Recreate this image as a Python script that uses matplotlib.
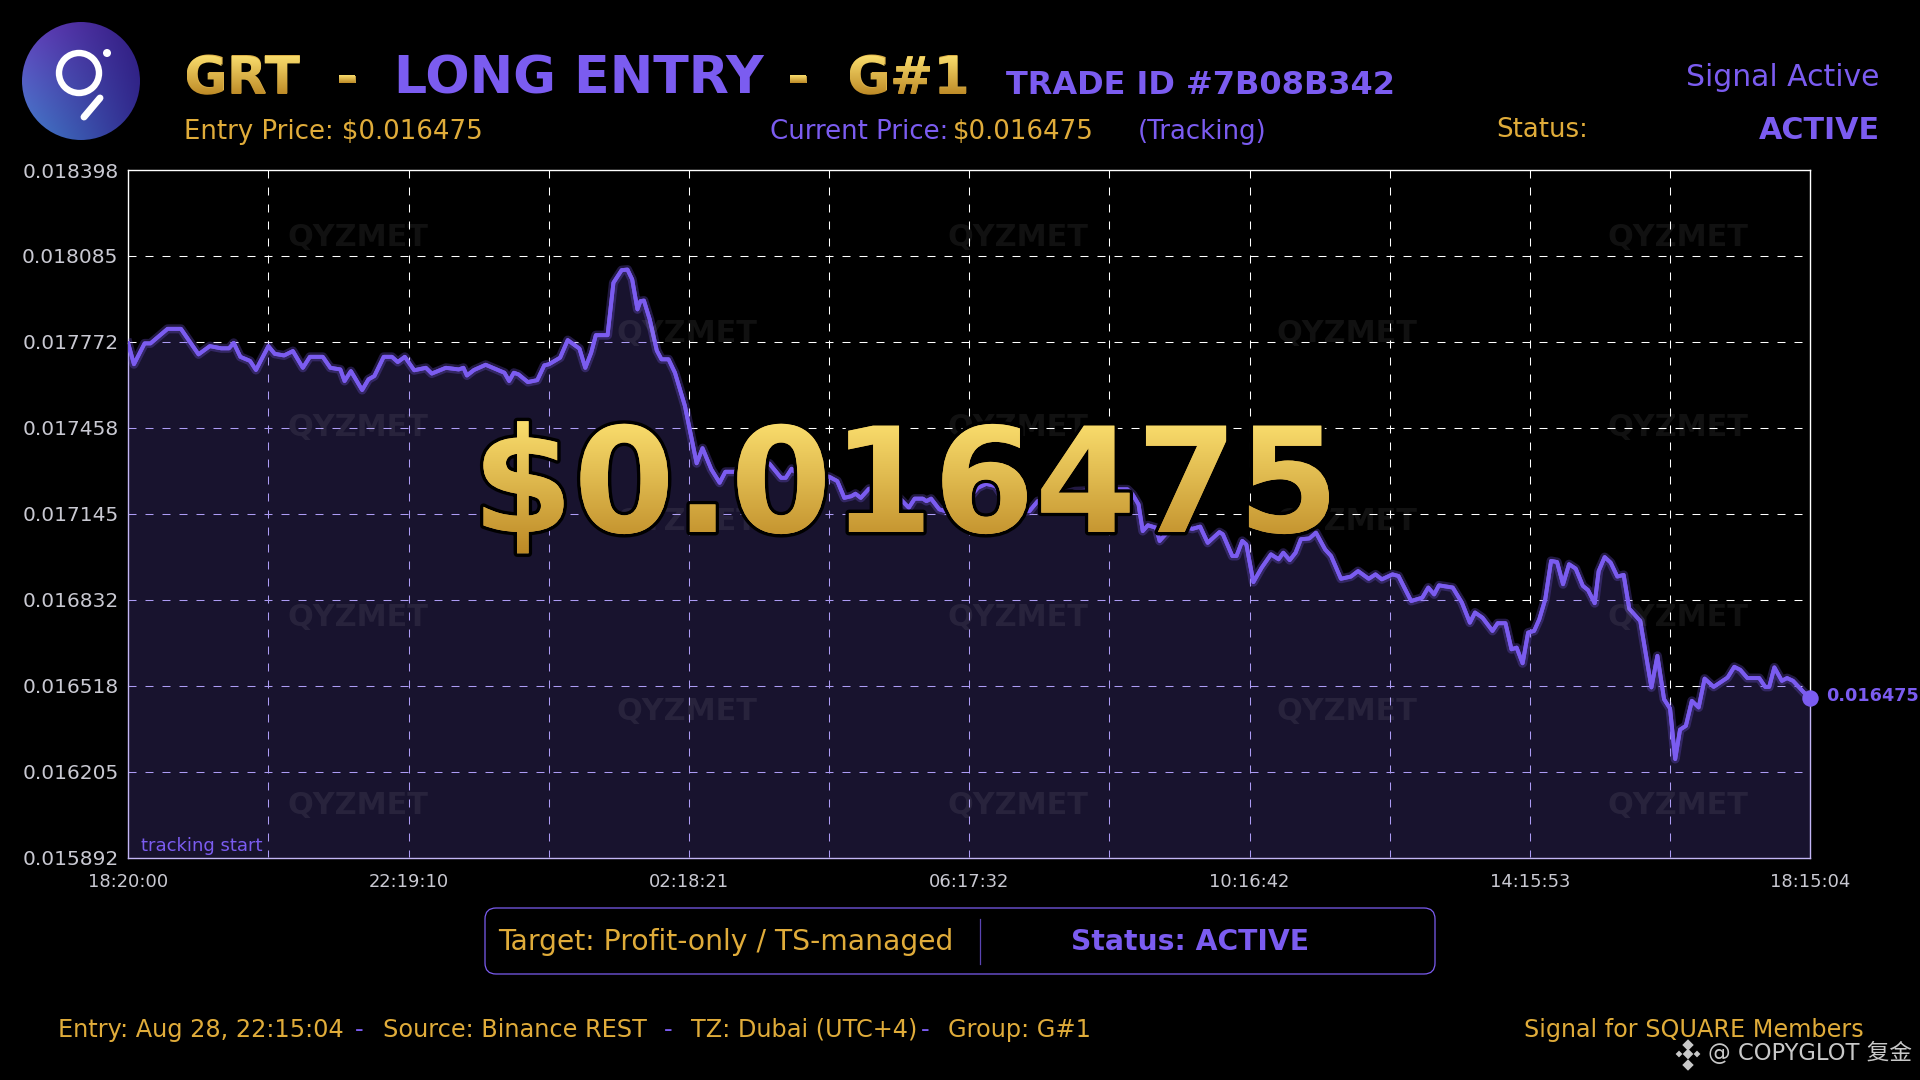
import numpy as np
import matplotlib
matplotlib.use("Agg")
import matplotlib.pyplot as plt
import matplotlib.patheffects as pe
from matplotlib.font_manager import FontProperties
from matplotlib.patches import Circle, FancyBboxPatch
from matplotlib.textpath import TextPath
from matplotlib.transforms import Affine2D

# minutes since tracking start
time_min = [
    0, 4.9, 14, 19, 33.6, 45, 60, 69.6, 79.4, 86, 90, 95.7, 104, 109, 119.6, 125, 133, 140.5, 149, 155,
    166, 172.5, 181, 184.6, 190, 199.6, 205, 210, 218, 225, 230, 236, 244, 254, 259, 271, 282, 286, 289, 295,
    305, 321, 325, 329, 333, 341, 349, 355, 359, 368.5, 375, 385, 390, 395, 399, 409, 414, 421, 426, 430,
    434.5, 437, 440, 445, 451, 455, 461, 466.5, 475, 485, 490, 497.5, 504.6, 509.5, 517, 527, 542, 547, 557, 561,
    566, 568, 581, 598, 605, 611, 617, 620.5, 625, 632, 648, 666, 671, 678, 681, 685, 692, 697, 714, 725,
    732, 740, 754.5, 769, 776, 808, 844, 852.5, 857, 862, 865.6, 870, 877, 880, 890, 898, 908, 914.6, 921, 931,
    934, 942, 945.6, 950.5, 954, 960, 967, 975, 981.5, 985.5, 991, 996, 1000.5, 1007.7, 1013.4, 1021.2, 1026.3,
    1034.7, 1043.2, 1049.3, 1058.4, 1064.2, 1069.6, 1078.7, 1083.8, 1094.6, 1104.1, 1109.2, 1114.2, 1118.3, 1130.1,
    1137.9, 1144.7, 1149.1, 1155.5, 1164, 1168.4, 1175.1, 1180.2, 1184.6, 1189.7, 1194.4, 1199.5, 1203.9, 1209, 1214,
    1219.1, 1224.2, 1229.3, 1235, 1241.1, 1245.5, 1251.2, 1254.6, 1259.7, 1264.8, 1270.5, 1275.9, 1280.7, 1290.1,
    1299.6, 1304.7, 1310.4, 1315.5, 1319.9, 1324, 1329, 1334.1, 1339.9, 1345, 1352.7, 1364.6, 1370.3, 1375.4, 1381.5,
    1391.6, 1396.7, 1400.1, 1404.5, 1410.9, 1415.3, 1420.4, 1429.6, 1435,
]
price = [
    0.017766, 0.017690, 0.017766, 0.017766, 0.017819, 0.017819, 0.017726, 0.017756, 0.017748, 0.017748,
    0.017768, 0.017717, 0.017702, 0.017669, 0.017756, 0.017728, 0.017722, 0.017738, 0.017677, 0.017717,
    0.017717, 0.017677, 0.017671, 0.017629, 0.017665, 0.017596, 0.017635, 0.017647, 0.017717, 0.017717,
    0.017698, 0.017717, 0.017668, 0.017677, 0.017656, 0.017677, 0.017671, 0.017677, 0.017649, 0.017669,
    0.017688, 0.017659, 0.017629, 0.017659, 0.017653, 0.017625, 0.017632, 0.017686, 0.017690, 0.017714,
    0.017778, 0.017747, 0.017677, 0.017732, 0.017796, 0.017796, 0.017987, 0.018033, 0.018035, 0.017999,
    0.017890, 0.017920, 0.017922, 0.017853, 0.017740, 0.017708, 0.017708, 0.017659, 0.017538, 0.017329,
    0.017384, 0.017307, 0.017258, 0.017298, 0.017298, 0.017312, 0.017331, 0.017328, 0.017276, 0.017276,
    0.017309, 0.017300, 0.017288, 0.017280, 0.017264, 0.017203, 0.017209, 0.017218, 0.017203, 0.017236,
    0.017246, 0.017167, 0.017200, 0.017200, 0.017191, 0.017200, 0.017161, 0.017155, 0.017185, 0.017240,
    0.017254, 0.017246, 0.017155, 0.017155, 0.017191, 0.017227, 0.017234, 0.017234, 0.017215, 0.017179,
    0.017082, 0.017103, 0.017094, 0.017046, 0.017094, 0.017100, 0.017090, 0.017098, 0.017039, 0.017078,
    0.017070, 0.016991, 0.016991, 0.017046, 0.017033, 0.016896, 0.016948, 0.016997, 0.016979, 0.017003,
    0.016976, 0.017003, 0.017052, 0.017055, 0.017076, 0.017015, 0.016991,
    0.016908, 0.016916, 0.016936, 0.016908, 0.016924, 0.016906, 0.016924, 0.016918, 0.016827, 0.016839,
    0.016876, 0.016851, 0.016884, 0.016876, 0.016821, 0.016748, 0.016785, 0.016766, 0.016718, 0.016746,
    0.016746, 0.016651, 0.016657, 0.016600, 0.016712, 0.016718, 0.016760, 0.016833, 0.016973, 0.016969,
    0.016888, 0.016961, 0.016945, 0.016882, 0.016867, 0.016819, 0.016936, 0.016987, 0.016967, 0.016916,
    0.016922, 0.016799, 0.016754, 0.016512, 0.016627, 0.016469, 0.016435, 0.016251, 0.016358, 0.016372,
    0.016463, 0.016439, 0.016544, 0.016514, 0.016548, 0.016587, 0.016576, 0.016546, 0.016546, 0.016514,
    0.016514, 0.016585, 0.016536, 0.016546, 0.016536, 0.016494, 0.016475,
]
y_ticks = [0.015892, 0.016205, 0.016518, 0.016832, 0.017145, 0.017458, 0.017772, 0.018085, 0.018398]
x_labels = ["18:20:00", "22:19:10", "02:18:21", "06:17:32", "10:16:42", "14:15:53", "18:15:04"]
total_min = 1435.07
entry_price = "$0.016475"

W, H, DPI = 1920, 1080, 100
BG = "#000000"
PURPLE = "#7b5cf0"
GOLD = "#e0ac3a"
FILL = "#18132e"
LAV = "#ad9cf5"
TICK = "#c9c9d2"

plt.rcParams["font.family"] = ["DejaVu Sans", "Noto Sans CJK SC"]
plt.rcParams["lines.scale_dashes"] = False
DASH = (0, (5.76, 6.48))


def gold_text(ov, x, y, s, size, outline=0):
    # real text plus a gradient image clipped to its outline
    effects = [pe.withStroke(linewidth=outline, foreground="black")] if outline else None
    ov.text(x, y, s, fontsize=size, fontweight="bold", color="#dcb048", va="baseline", ha="left",
            path_effects=effects, zorder=8)
    prop = FontProperties(family="DejaVu Sans", weight="bold")
    tp = TextPath((0, 0), s, size=size * DPI / 72, prop=prop)
    box = tp.get_extents()
    grad = np.zeros((64, 2, 3))
    top, bot = np.array([0.98, 0.87, 0.43]), np.array([0.74, 0.54, 0.15])
    for i in range(64):
        grad[i, :] = top + (bot - top) * i / 63
    im = ov.imshow(grad, extent=(x + box.x0, x + box.x1, y - box.y0, y - box.y1), aspect="auto", zorder=9)
    im.set_clip_path(tp, transform=Affine2D().translate(x, H - y))


fig = plt.figure(figsize=(W / DPI, H / DPI), dpi=DPI, facecolor=BG)

# main chart
left, right, top, bottom = 128.2, 1810.2, 170.0, 857.5
ax = fig.add_axes([left / W, 1 - bottom / H, (right - left) / W, (bottom - top) / H], facecolor=BG, zorder=1)
ax.set_xlim(0, total_min)
ax.set_ylim(y_ticks[0], y_ticks[-1])

x_grid = [total_min / 12 * i for i in range(13)]
for xg in x_grid[1:-1]:
    ax.axvline(xg, color="white", lw=0.75, ls=DASH, zorder=1)
for yg in y_ticks[1:-1]:
    ax.axhline(yg, color="white", lw=0.75, ls=DASH, zorder=1)

fill = ax.fill_between(time_min, price, y_ticks[0], color=FILL, lw=0, zorder=2)
area = fill.get_paths()[0]
for xg in x_grid[1:-1]:
    ax.axvline(xg, color=LAV, lw=0.75, ls=DASH, zorder=2.2).set_clip_path(area, transform=ax.transData)
for yg in y_ticks[1:-1]:
    ax.axhline(yg, color=LAV, lw=0.75, ls=DASH, zorder=2.2).set_clip_path(area, transform=ax.transData)

ax.plot(time_min, price, color=PURPLE, lw=2.8, zorder=4, solid_joinstyle="round",
        path_effects=[pe.withStroke(linewidth=6.5, foreground=PURPLE, alpha=0.28), pe.Normal()])
ax.scatter([time_min[-1]], [price[-1]], s=140, color=PURPLE, lw=0, zorder=5, clip_on=False)

for side in ax.spines.values():
    side.set_color("white")
    side.set_linewidth(1.0)
ax.spines["bottom"].set_color("#c3b6f5")
ax.spines["left"].set_bounds(price[0], y_ticks[-1])
ax.spines["right"].set_bounds(price[-1], y_ticks[-1])
ax.plot([0, 0], [y_ticks[0], price[0]], color="#c3b6f5", lw=1.0, clip_on=False, zorder=3)
ax.plot([total_min, total_min], [y_ticks[0], price[-1]], color="#c3b6f5", lw=1.0, clip_on=False, zorder=3)

ax.set_yticks(y_ticks)
ax.set_yticklabels([f"{v:.6f}" for v in y_ticks], color=TICK, fontsize=14.5)
ax.set_xticks(x_grid[::2])
ax.set_xticklabels(x_labels, color=TICK, fontsize=12.9)
ax.tick_params(axis="both", length=0)
ax.tick_params(axis="y", pad=7)
ax.tick_params(axis="x", pad=11)

# everything else sits on a pixel-coordinate overlay
ov = fig.add_axes([0, 0, 1, 1], facecolor="none", zorder=2)
ov.set_xlim(0, W)
ov.set_ylim(H, 0)
ov.set_autoscale_on(False)
ov.axis("off")

# watermarks
for wy, wxs in zip([237, 333, 427, 522, 617, 712, 806],
                   [(357.5, 1017.5, 1677.5), (687, 1347)] * 3 + [(357.5, 1017.5, 1677.5)]):
    for wx in wxs:
        ov.text(wx, wy, "QYZMET", fontsize=21.8, fontweight="bold", color="white", alpha=0.07,
                ha="center", va="center", zorder=1)

# logo
gx, gy = np.meshgrid(np.linspace(0, 1, 120), np.linspace(0, 1, 120))
tl, tr = np.array([0.40, 0.25, 0.74]), np.array([0.19, 0.11, 0.50])
bl, br = np.array([0.26, 0.50, 0.80]), np.array([0.19, 0.17, 0.56])
logo = ((1 - gx) * (1 - gy))[..., None] * tl + (gx * (1 - gy))[..., None] * tr \
    + ((1 - gx) * gy)[..., None] * bl + (gx * gy)[..., None] * br
im = ov.imshow(logo, extent=(22, 140, 140, 22), aspect="auto", zorder=2)
im.set_clip_path(Circle((81, 81), 59, transform=ov.transData))
ov.add_patch(Circle((79, 73), 20, fc="none", ec="white", lw=4.6, zorder=3))
ov.add_patch(Circle((107, 53), 4, fc="white", ec="none", zorder=3))
ov.plot([100, 84], [98, 117], color="white", lw=5, solid_capstyle="round", zorder=3)

# header
gold_text(ov, 184, 94, "GRT", 37.5)
gold_text(ov, 336, 94, "-", 37.5)
ov.text(394, 94, "LONG ENTRY", fontsize=37.5, fontweight="bold", color=PURPLE, va="baseline")
gold_text(ov, 787, 94, "-", 37.5)
gold_text(ov, 847, 94, "G#1", 37.5)
ov.text(1006, 94, "TRADE ID #7B08B342", fontsize=23.05, fontweight="bold", color=PURPLE, va="baseline")
ov.text(1880, 86, "Signal Active", fontsize=21.5, color=PURPLE, ha="right", va="baseline")
ov.text(184, 139, "Entry Price: $0.016475", fontsize=18.7, color=GOLD, va="baseline")
ov.text(770, 139, "Current Price:", fontsize=18.7, color=PURPLE, va="baseline")
ov.text(953, 139, "$0.016475", fontsize=18.7, color=GOLD, va="baseline")
ov.text(1138, 139, "(Tracking)", fontsize=18.7, color=PURPLE, va="baseline")
ov.text(1496, 137, "Status:", fontsize=18.7, color=GOLD, va="baseline")
ov.text(1880, 139, "ACTIVE", fontsize=21.7, fontweight="bold", color=PURPLE, ha="right", va="baseline")

# big price
gold_text(ov, 472, 532, entry_price, 105, outline=5)

# chart annotations
ov.text(141, 851, "tracking start", fontsize=13, color=PURPLE, va="baseline", zorder=4)
ov.text(1826, 701, f"{price[-1]:.6f}", fontsize=12.7, fontweight="bold", color=PURPLE, va="baseline")

# status box
ov.add_patch(FancyBboxPatch((495, 918), 930, 46, boxstyle="round,pad=10,rounding_size=11",
                            fc="#000000", ec=PURPLE, lw=0.9, zorder=2))
ov.plot([980, 980], [919, 964], color=PURPLE, lw=0.9, alpha=0.75, zorder=3)
ov.text(498, 950, "Target: Profit-only / TS-managed", fontsize=20.35, color=GOLD, va="baseline", zorder=3)
ov.text(1190, 950, "Status: ACTIVE", fontsize=20.3, fontweight="bold", color=PURPLE, ha="center", va="baseline", zorder=3)

# footer
foot = 1037
ov.text(58, foot, "Entry: Aug 28, 22:15:04", fontsize=17.25, color=GOLD, va="baseline")
ov.text(355, foot, "-", fontsize=17.25, color=PURPLE, va="baseline")
ov.text(383, foot, "Source: Binance REST", fontsize=17.25, color=GOLD, va="baseline")
ov.text(664, foot, "-", fontsize=17.25, color=PURPLE, va="baseline")
ov.text(691, foot, "TZ: Dubai (UTC+4)", fontsize=17.25, color=GOLD, va="baseline")
ov.text(921, foot, "-", fontsize=17.25, color=PURPLE, va="baseline")
ov.text(948, foot, "Group: G#1", fontsize=17.25, color=GOLD, va="baseline")
ov.text(1864, foot, "Signal for SQUARE Members", fontsize=17.2, color=GOLD, ha="right", va="baseline")

# source mark
mark = "#c8c8c8"
ov.scatter([1688, 1688, 1688, 1679, 1697], [1045, 1054, 1065, 1054, 1054], s=[34, 30, 34, 12, 12],
           marker="D", color=mark, lw=0)
ov.text(1708, 1060, "@ COPYGLOT 复金", fontsize=16.3, color=mark, va="baseline")

fig.savefig("out.png", dpi=DPI, facecolor=BG)
